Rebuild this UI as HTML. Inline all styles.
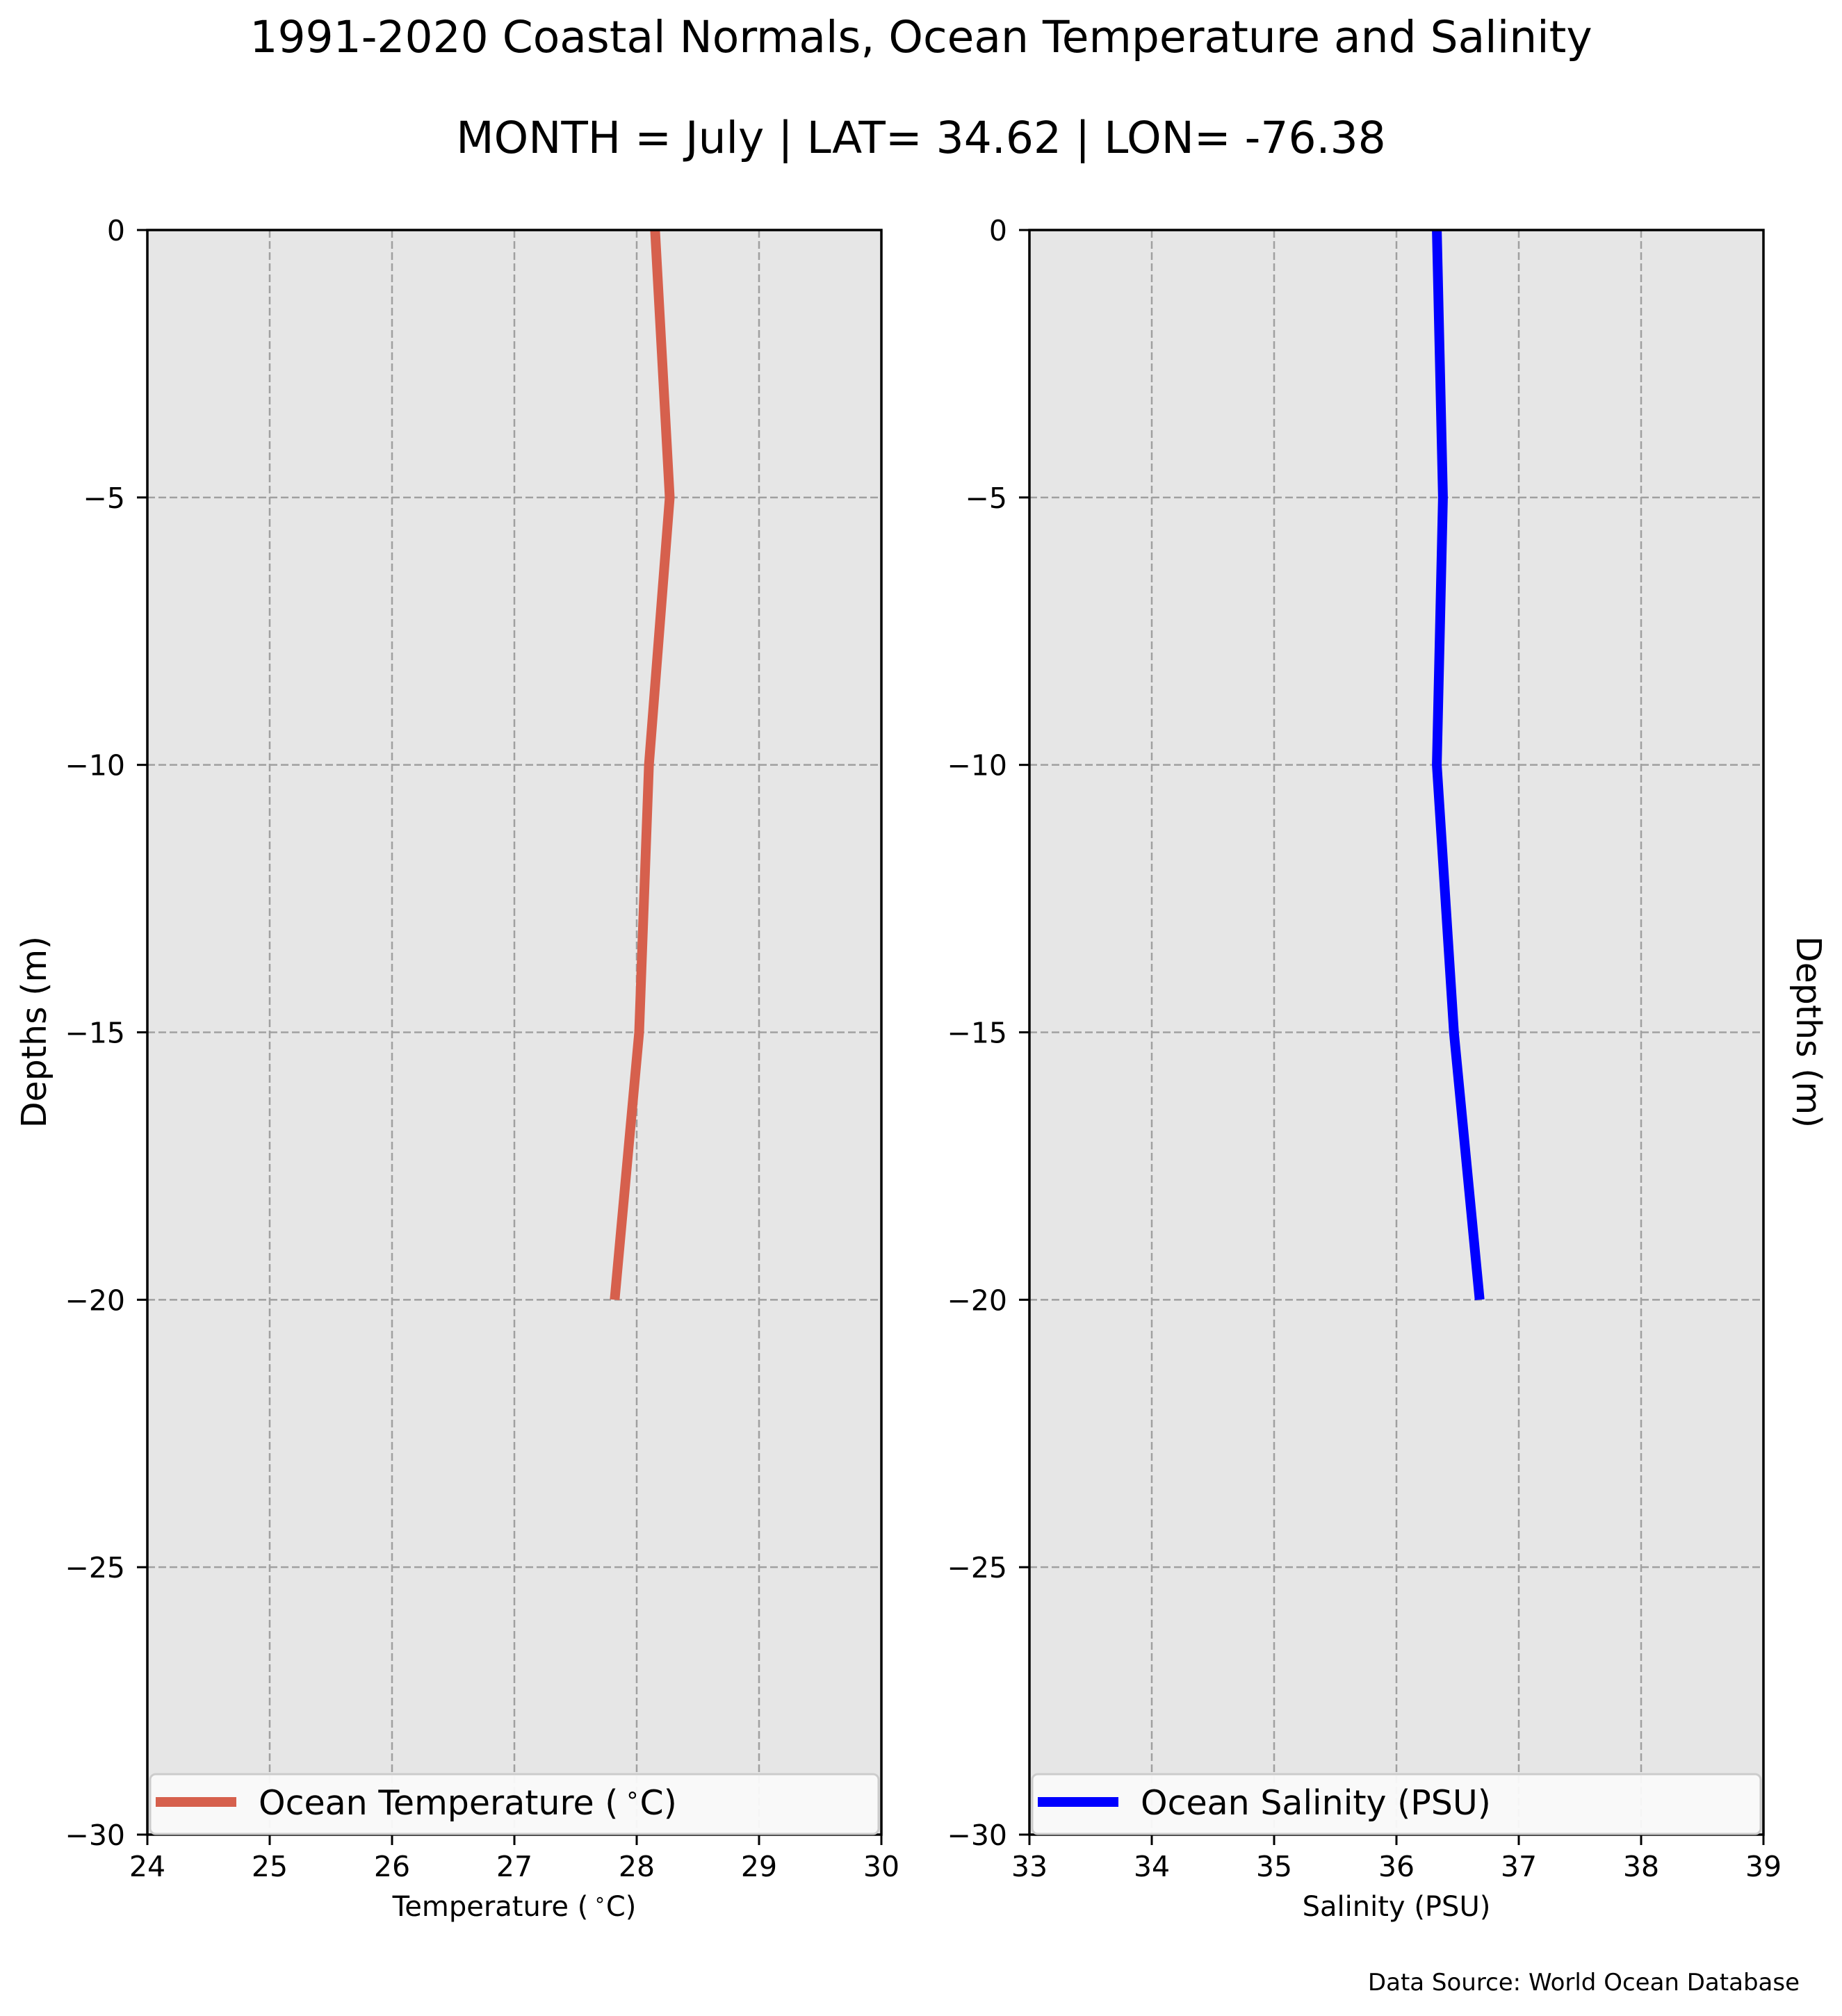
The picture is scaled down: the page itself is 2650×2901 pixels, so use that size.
<!DOCTYPE html>
<html><head><meta charset="utf-8"><style>
html,body{margin:0;padding:0;background:#fff;}
svg{display:block;font-family:"DejaVu Sans","Liberation Sans",sans-serif;}
</style></head><body>
<svg id="fig" width="2650" height="2901" viewBox="0 0 2650 2901" xmlns="http://www.w3.org/2000/svg">
<text x="1325" y="75" font-size="63" text-anchor="middle">1991-2020 Coastal Normals, Ocean Temperature and Salinity</text>
<text x="1325" y="220" font-size="63" text-anchor="middle">MONTH = July | LAT= 34.62 | LON= -76.38</text>
<text transform="translate(66,1485) rotate(-90)" font-size="49" text-anchor="middle">Depths (m)</text>
<text transform="translate(2585,1485) rotate(90)" font-size="49" text-anchor="middle">Depths (m)</text>
<text x="2589" y="2864" font-size="34" text-anchor="end">Data Source: World Ocean Database</text>
<g id="plots"></g>
</svg>
<script>
const depths = [0, -5, -10, -15, -20];
const temperature = [28.15, 28.27, 28.1, 28.02, 27.82];
const salinity = [36.33, 36.38, 36.33, 36.47, 36.68];
const tempTicks = [24, 25, 26, 27, 28, 29, 30];
const salTicks = [33, 34, 35, 36, 37, 38, 39];
const depthTicks = [0, -5, -10, -15, -20, -25, -30];

const NS = 'http://www.w3.org/2000/svg';
const root = document.getElementById('plots');
function mk(tag, attrs, parent) {
  const e = document.createElementNS(NS, tag);
  for (const k in attrs) e.setAttribute(k, attrs[k]);
  (parent || root).appendChild(e);
  return e;
}
function degText(el, before, after, fs) {
  el.appendChild(document.createTextNode(before + '\u2009'));
  const s = document.createElementNS(NS, 'tspan');
  s.setAttribute('font-size', Math.round(fs * 0.7));
  s.setAttribute('dy', -Math.round(fs * 0.35));
  s.textContent = '\u2218';
  el.appendChild(s);
  const t = document.createElementNS(NS, 'tspan');
  t.setAttribute('dy', Math.round(fs * 0.35));
  t.textContent = after;
  el.appendChild(t);
}
const TOP = 331, BOT = 2640;
function yScale(d) { return TOP + (0 - d) / 30 * (BOT - TOP); }

function panel(prefix, x0, x1, xmin, xmax, xTicks, values, color, xlabel, legendText, deg) {
  const xScale = v => x0 + (v - xmin) / (xmax - xmin) * (x1 - x0);
  const g = mk('g', {});
  
  
  const bg = mk('rect', {x: x0, y: TOP, width: x1 - x0, height: BOT - TOP, fill: '#e6e6e6'}, g);
  
  
  xTicks.forEach(t => {
    const x = xScale(t);
    const gl = mk('line', {x1: x, x2: x, y1: TOP, y2: BOT, stroke: '#a0a0a0', 'stroke-width': 2.5, 'stroke-dasharray': '11,5'}, g);
    
    
    mk('line', {x1: x, x2: x, y1: BOT, y2: BOT + 15, stroke: '#000', 'stroke-width': 3}, g);
    const tl = mk('text', {x: x, y: BOT + 60, 'font-size': 41, 'text-anchor': 'middle'}, g);
    tl.textContent = String(t);
    
    
  });
  depthTicks.forEach(d => {
    const y = yScale(d);
    const gl = mk('line', {x1: x0, x2: x1, y1: y, y2: y, stroke: '#a0a0a0', 'stroke-width': 2.5, 'stroke-dasharray': '11,5'}, g);
    
    
    mk('line', {x1: x0 - 15, x2: x0, y1: y, y2: y, stroke: '#000', 'stroke-width': 3}, g);
    const tl = mk('text', {x: x0 - 32, y: y + 15, 'font-size': 41, 'text-anchor': 'end'}, g);
    tl.textContent = d === 0 ? '0' : '\u2212' + Math.abs(d);
    
    
  });
  const pts = values.map((v, i) => xScale(v).toFixed(1) + ',' + yScale(depths[i]).toFixed(1)).join(' ');
  const line = mk('polyline', {points: pts, fill: 'none', stroke: color, 'stroke-width': 14}, g);
  
  
  const fr = mk('rect', {x: x0, y: TOP, width: x1 - x0, height: BOT - TOP, fill: 'none', stroke: '#000', 'stroke-width': 3.5}, g);
  
  
  const lg = mk('g', {}, g);
  
  
  mk('rect', {x: x0 + 4, y: 2553, width: x1 - x0 - 8, height: 86, rx: 8, fill: '#fafafa', stroke: '#cccccc', 'stroke-width': 3, 'fill-opacity': 0.95}, lg);
  mk('line', {x1: x0 + 12, x2: x0 + 128, y1: 2593, y2: 2593, stroke: color, 'stroke-width': 14}, lg);
  const lt = mk('text', {x: x0 + 160, y: 2611, 'font-size': 49}, lg);
  if (deg) degText(lt, legendText[0], legendText[1], 49); else lt.textContent = legendText;
  
  
  const xl = mk('text', {x: (x0 + x1) / 2, y: 2757, 'font-size': 40, 'text-anchor': 'middle'}, g);
  if (deg) degText(xl, xlabel[0], xlabel[1], 40); else xl.textContent = xlabel;
  
  
}
panel('temperature', 212, 1268, 24, 30, tempTicks, temperature, '#d6604d', ['Temperature (', 'C)'], ['Ocean Temperature (', 'C)'], true);
panel('salinity', 1481, 2537, 33, 39, salTicks, salinity, '#0000ff', 'Salinity (PSU)', 'Ocean Salinity (PSU)', false);
</script>
</body></html>
